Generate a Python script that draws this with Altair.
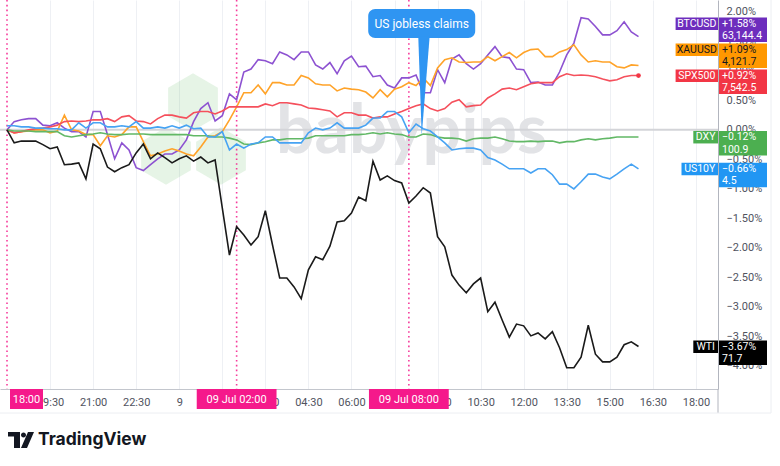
import json
import altair as alt
import pandas as pd

# ---------------- data ----------------
SERIES = ["BTCUSD", "XAUUSD", "SPX500", "DXY", "US10Y", "WTI"]
LAST_PRICE = ["63,144.4", "4,121.7", "7,542.5", "100.9", "4.5", "71.7"]
LINE_COLORS = ["#8d52d1", "#ffa329", "#f5505c", "#62b866", "#47a3f3", "#1a1a1a"]
TAG_COLORS = ["#6d2dbd", "#ff9800", "#f23645", "#4caf50", "#2196f3", "#000000"]
TAG_TEXT = ["#ffffff", "#131722", "#ffffff", "#ffffff", "#ffffff", "#ffffff"]

BTCUSD = [0, 0.14, 0.17, 0.19, 0.19, 0.08, 0.07, 0.12, 0.03, -0.03,
          -0.03, -0.12, 0.31, 0.31, -0.08, -0.49, -0.22, -0.34, -0.64, -0.69,
          -0.59, -0.49, -0.41, -0.41, -0.34, -0.17, 0.14, 0.36, 0.46, 0.15,
          0.24, 0.61, 0.51, 0.98, 1.03, 1.19, 1.17, 1.12, 1.32, 1.27,
          1.19, 1.32, 1.32, 1.10, 1.03, 1.14, 0.95, 1.17, 1.25, 1.07,
          1.08, 0.90, 0.92, 0.76, 0.71, 0.88, 0.88, 0.93, 0.63, 0.63,
          1.02, 0.80, 1.20, 1.27, 1.12, 1.03, 1.12, 1.27, 1.41, 1.24,
          1.22, 1.03, 1.02, 0.80, 0.81, 0.76, 0.76, 0.98, 1.27, 1.47,
          1.90, 1.88, 1.75, 1.61, 1.61, 1.68, 1.83, 1.66, 1.58]
XAUUSD = [0, -0.05, -0.03, -0.02, 0, 0, -0.05, -0.02, 0.25, 0,
          -0.02, -0.08, -0.08, -0.27, -0.10, -0.12, -0.08, 0.05, 0.05, -0.20,
          -0.44, -0.41, -0.36, -0.32, -0.36, -0.41, -0.44, -0.29, -0.12, -0.10,
          -0.03, 0.17, 0.39, 0.63, 0.63, 0.76, 0.61, 0.80, 0.80, 0.76,
          0.76, 0.92, 0.88, 0.78, 0.76, 0.76, 0.66, 0.71, 0.69, 0.68,
          0.64, 0.54, 0.68, 0.56, 0.69, 0.73, 0.80, 0.75, 0.88, 0.75,
          1.05, 1.19, 1.22, 1.15, 1.14, 1.15, 1.15, 1.24, 1.17, 1.24,
          1.31, 1.22, 1.31, 1.36, 1.37, 1.24, 1.24, 1.32, 1.36, 1.44,
          1.27, 1.15, 1.17, 1.15, 1.15, 1.07, 1.05, 1.10, 1.09]
SPX500 = [0, -0.05, -0.03, 0, 0.02, 0.03, 0.05, 0.08, 0.14, 0.15,
          0.14, 0.15, 0.17, 0.17, 0.19, 0.14, 0.22, 0.24, 0.15, 0.14,
          0.10, 0.19, 0.25, 0.25, 0.22, 0.20, 0.29, 0.31, 0.31, 0.27,
          0.32, 0.39, 0.39, 0.39, 0.39, 0.39, 0.44, 0.41, 0.46, 0.46,
          0.44, 0.42, 0.37, 0.36, 0.34, 0.32, 0.22, 0.29, 0.29, 0.25,
          0.25, 0.20, 0.22, 0.22, 0.27, 0.31, 0.36, 0.41, 0.44, 0.36,
          0.32, 0.36, 0.47, 0.51, 0.39, 0.41, 0.42, 0.54, 0.61, 0.69,
          0.71, 0.68, 0.73, 0.78, 0.80, 0.80, 0.80, 0.90, 0.95, 0.92,
          0.93, 0.92, 0.90, 0.86, 0.83, 0.85, 0.90, 0.92, 0.92]
DXY = [0, -0.02, -0.02, -0.02, -0.03, -0.03, -0.03, -0.03, -0.10, -0.12,
       -0.10, -0.08, -0.07, -0.05, -0.07, -0.08, -0.08, -0.07, -0.07, -0.07,
       -0.08, -0.08, -0.08, -0.08, -0.08, -0.08, -0.10, -0.10, -0.10, -0.12,
       -0.12, -0.14, -0.17, -0.24, -0.25, -0.22, -0.20, -0.17, -0.17, -0.15,
       -0.15, -0.15, -0.14, -0.10, -0.10, -0.10, -0.10, -0.10, -0.08, -0.08,
       -0.07, -0.05, -0.07, -0.05, -0.07, -0.08, -0.12, -0.12, -0.07, -0.08,
       -0.12, -0.14, -0.14, -0.15, -0.19, -0.15, -0.14, -0.14, -0.12, -0.15,
       -0.19, -0.20, -0.20, -0.19, -0.20, -0.19, -0.19, -0.22, -0.20, -0.20,
       -0.17, -0.15, -0.17, -0.15, -0.14, -0.12, -0.12, -0.12, -0.12]
US10Y = [0.07, 0.07, 0.05, 0.05, 0.03, 0.03, 0.02, 0.02, 0, 0,
         0.12, 0.03, 0.12, 0.12, 0.05, 0.05, 0.07, 0.05, 0.14, 0.03,
         0.03, 0.05, 0.03, 0.07, 0.03, 0.08, 0.02, 0.03, -0.12, -0.12,
         -0.03, -0.34, -0.24, -0.31, -0.24, -0.22, -0.12, -0.12, -0.22, -0.22,
         -0.22, -0.22, -0.05, 0.03, 0, 0.03, 0.12, 0.03, 0.03, 0.03,
         0.08, 0.20, 0.20, 0.31, 0.31, 0.22, -0.05, 0.10, 0.02, -0.02,
         -0.12, -0.22, -0.34, -0.32, -0.31, -0.31, -0.34, -0.47, -0.51, -0.58,
         -0.66, -0.66, -0.66, -0.73, -0.66, -0.66, -0.76, -0.92, -0.92, -1.00,
         -0.88, -0.75, -0.75, -0.80, -0.83, -0.75, -0.66, -0.58, -0.66]
WTI = [0, -0.22, -0.19, -0.19, -0.19, -0.25, -0.32, -0.29, -0.59, -0.58,
       -0.56, -0.83, -0.24, -0.32, -0.63, -0.71, -0.64, -0.59, -0.39, -0.24,
       -0.49, -0.39, -0.47, -0.56, -0.49, -0.44, -0.53, -0.46, -0.56, -0.51,
       -1.32, -2.12, -1.64, -1.78, -1.95, -1.81, -1.37, -1.95, -2.51, -2.51,
       -2.66, -2.86, -2.37, -2.15, -2.20, -1.97, -1.56, -1.54, -1.41, -1.14,
       -1.20, -0.53, -0.85, -0.78, -0.86, -0.90, -1.24, -1.12, -0.98, -1.07,
       -1.81, -1.98, -2.46, -2.63, -2.76, -2.61, -2.51, -3.08, -2.92, -3.22,
       -3.51, -3.29, -3.32, -3.49, -3.44, -3.54, -3.42, -3.69, -4.03, -4.03,
       -3.85, -3.31, -3.80, -3.93, -3.93, -3.85, -3.64, -3.59, -3.67]
VALUES = [BTCUSD, XAUUSD, SPX500, DXY, US10Y, WTI]

STEP_HOURS = 0.25  # 15-minute bars, hours after 08 Jul 18:00
TICK_HOURS = [1.5, 3, 4.5, 6, 7.5, 9, 10.5, 12, 13.5, 15, 16.5, 18, 19.5, 21, 22.5, 24]
TICK_LABELS = ["19:30", "21:00", "22:30", "9", "01:30", "03:00", "04:30", "06:00",
               "07:30", "09:00", "10:30", "12:00", "13:30", "15:00", "16:30", "18:00"]
EVENT_HOURS = [0, 8, 14]
EVENT_LABELS = ["18:00", "09 Jul   02:00", "09 Jul   08:00"]
CALLOUT_TEXT = "US jobless claims"
CALLOUT_HOUR = 14.5
Y_TICKS = [2.0, 1.5, 1.0, 0.5, 0.0, -0.5, -1.0, -1.5, -2.0, -2.5, -3.0, -3.5, -4.0]

# ---------------- layout ----------------
W, H = 718, 389
X_MIN, X_MAX = -0.244, 24.77
Y_MIN, Y_MAX = -4.39, 2.2
PPP = H / (Y_MAX - Y_MIN)          # pixels per percent


def px_x(h):
    return (h - X_MIN) / (X_MAX - X_MIN) * W


PINK = "#f5198b"
FONT = "Roboto"
ONE = alt.Data(values=[{"a": 1}])

xscale = alt.Scale(domain=[X_MIN, X_MAX], nice=False, zero=False)
yscale = alt.Scale(domain=[Y_MIN, Y_MAX], nice=False, zero=False)
X_AXIS = alt.Axis(values=TICK_HOURS,
                  labelExpr=f"{json.dumps(TICK_LABELS)}[indexof({json.dumps(TICK_HOURS)}, datum.value)]",
                  grid=True, gridColor="#eef0f4", gridWidth=1, ticks=False, domainColor="#c3c6cd",
                  labelColor="#50535e", labelFont=FONT, labelFontSize=11, labelPadding=7,
                  labelFlush=False, labelOverlap=False, title=None)
Y_AXIS = alt.Axis(orient="right", values=Y_TICKS,
                  labelExpr="(datum.value < -0.001 ? '\u2212' : '') + format(abs(datum.value), '.2f') + '%'",
                  grid=False, ticks=False, domainColor="#b2b5be", labelColor="#50535e", labelFont=FONT,
                  labelFontSize=11, labelPadding=8, labelOverlap=False, title=None)


def X(field):
    return alt.X(field, type="quantitative", scale=xscale, axis=X_AXIS)


def Y(field):
    return alt.Y(field, type="quantitative", scale=yscale, axis=Y_AXIS)


rows = []
for name, vals in zip(SERIES, VALUES):
    for i, v in enumerate(vals):
        rows.append({"series": name, "h": i * STEP_HOURS, "v": v})
df = pd.DataFrame(rows)

layers = []

# watermark: hexagons + babypips word
HEX = "M0,-1 L0.866,-0.5 L0.866,0.5 L0,1 L-0.866,0.5 L-0.866,-0.5 Z"
for cx, cy in [(193, 102), (166, 156), (221, 156)]:
    layers.append(alt.Chart(ONE).mark_point(shape=HEX, filled=True, size=3300,
                                             color="#4caf50", opacity=0.14, strokeWidth=0)
                  .encode(x=alt.value(cx), y=alt.value(cy)))
layers.append(alt.Chart(ONE).mark_text(text="babypips", font="Lato", fontSize=68, fontWeight="bold",
                                        color="#e2e3e6", align="left", baseline="alphabetic")
              .encode(x=alt.value(276), y=alt.value(153)))

# zero line
zero = pd.DataFrame({"v": [0.0]})
layers.append(alt.Chart(zero).mark_rule(color="#d3d4d8", strokeWidth=2).encode(y=Y("v")))

# event lines (dotted pink)
ev = pd.DataFrame({"h": EVENT_HOURS})
layers.append(alt.Chart(ev).mark_rule(color=PINK, strokeWidth=1.6, strokeDash=[1.6, 3.2], opacity=0.85)
              .encode(x=X("h")))

# the lines
layers.append(alt.Chart(df).mark_line(strokeWidth=1.6)
              .encode(x=X("h"), y=Y("v"),
                      color=alt.Color("series:N", scale=alt.Scale(domain=SERIES, range=LINE_COLORS), legend=None),
                      detail="series:N"))

# SPX end dot
spx_end = pd.DataFrame({"h": [(len(SPX500) - 1) * STEP_HOURS], "v": [SPX500[-1]]})
layers.append(alt.Chart(spx_end).mark_circle(size=22, color=TAG_COLORS[2], opacity=1)
              .encode(x=X("h"), y=Y("v")))

# callout
cxp = px_x(CALLOUT_HOUR)
layers.append(alt.Chart(ONE).mark_rect(color="#2f95f2", cornerRadius=7)
              .encode(x=alt.value(cxp - 55), x2=alt.value(cxp + 52), y=alt.value(9), y2=alt.value(38)))
layers.append(alt.Chart(ONE).mark_point(shape="M-0.1,-1 L0.13,-1 L-0.03,1 Z", filled=True, size=9800,
                                         color="#2f95f2", opacity=1, strokeWidth=0)
              .encode(x=alt.value(cxp), y=alt.value(86)))
layers.append(alt.Chart(ONE).mark_text(text=CALLOUT_TEXT, font=FONT, fontSize=12, color="white",
                                        baseline="middle", align="center")
              .encode(x=alt.value(cxp - 1.5), y=alt.value(23.5)))

# right-side tags (stacked upwards when overlapping)
last = [vals[-1] for vals in VALUES]
OFF, TH, NH, GAP = 6 / PPP, 24.5 / PPP, 12.5 / PPP, 1.5 / PPP
tops = {}
prev = None
for k in sorted(range(len(SERIES)), key=lambda k: last[k]):
    t = last[k] + OFF
    if prev is not None:
        t = max(t, prev + TH + GAP)
    tops[k] = t
    prev = t

for k, name in enumerate(SERIES):
    t = tops[k]
    pct = ("+" if last[k] > 0 else "\u2212") + f"{abs(last[k]):.2f}%"
    d = pd.DataFrame({"top": [t], "nb": [t - NH], "vb": [t - TH],
                      "l1": [t - 6.3 / PPP], "l2": [t - 18.6 / PPP]})
    nw = 5.9 * len(name) + 7
    base = alt.Chart(d)
    layers.append(base.mark_rect(color=TAG_COLORS[k])
                  .encode(x=alt.value(W - nw), x2=alt.value(W), y=Y("top"), y2="nb:Q"))
    layers.append(base.mark_rect(color=TAG_COLORS[k])
                  .encode(x=alt.value(W + 1), x2=alt.value(W + 49), y=Y("top"), y2="vb:Q"))
    layers.append(base.mark_text(text=name, font=FONT, fontSize=10.5, color=TAG_TEXT[k], align="center",
                                 baseline="middle")
                  .encode(x=alt.value(W - nw / 2), y=Y("l1")))
    layers.append(base.mark_text(text=pct, font=FONT, fontSize=10.5, color=TAG_TEXT[k], align="left",
                                 baseline="middle")
                  .encode(x=alt.value(W + 4), y=Y("l1")))
    layers.append(base.mark_text(text=LAST_PRICE[k], font=FONT, fontSize=10.5, color=TAG_TEXT[k],
                                 align="left", baseline="middle")
                  .encode(x=alt.value(W + 4), y=Y("l2")))

# pink time boxes on the x axis
for h, lab in zip(EVENT_HOURS, EVENT_LABELS):
    w = 5.2 * len(lab) + 7
    left = max(px_x(h) - w / 2, 10)
    layers.append(alt.Chart(ONE).mark_rect(color=PINK)
                  .encode(x=alt.value(left), x2=alt.value(left + w), y=alt.value(H), y2=alt.value(H + 20)))
    layers.append(alt.Chart(ONE).mark_text(text=lab, font=FONT, fontSize=11, color="white", align="center",
                                           baseline="middle")
                  .encode(x=alt.value(left + w / 2), y=alt.value(H + 10.5)))

# frame lines
layers.append(alt.Chart(ONE).mark_rule(color="#b2b5be")
              .encode(x=alt.value(W), y=alt.value(H), y2=alt.value(413)))
layers.append(alt.Chart(ONE).mark_rule(color="#eceef2")
              .encode(x=alt.value(0), x2=alt.value(771), y=alt.value(413)))
layers.append(alt.Chart(ONE).mark_rule(color="#eceef2")
              .encode(x=alt.value(771), y=alt.value(0), y2=alt.value(413)))

# TradingView logo
TV = ("M-1,-0.615 L-0.077,-0.615 L-0.077,0.615 L-0.538,0.615 L-0.538,-0.269 L-1,-0.269 Z "
      "M0.0,-0.385 A0.192,0.192 0 1,0 0.385,-0.385 A0.192,0.192 0 1,0 0.0,-0.385 Z "
      "M0.538,-0.615 L1,-0.615 L0.462,0.615 L0,0.615 Z")
layers.append(alt.Chart(ONE).mark_point(shape=TV, filled=True, size=676, color="#131722", opacity=1,
                                         strokeWidth=0)
              .encode(x=alt.value(21), y=alt.value(440)))
layers.append(alt.Chart(ONE).mark_text(text="TradingView", font="Inter", fontSize=17.5, fontWeight="bold",
                                        color="#131722", align="left", baseline="middle")
              .encode(x=alt.value(38), y=alt.value(440)))

chart = (alt.layer(*layers)
         .properties(width=W, height=H, autosize=alt.AutoSizeParams(type="none"),
                     padding={"left": 0, "top": 0, "right": 780 - W, "bottom": 466 - H},
                     background="white")
         .configure_view(stroke=None))

chart.save("out.html", embed_options={"renderer": "svg", "actions": False})
